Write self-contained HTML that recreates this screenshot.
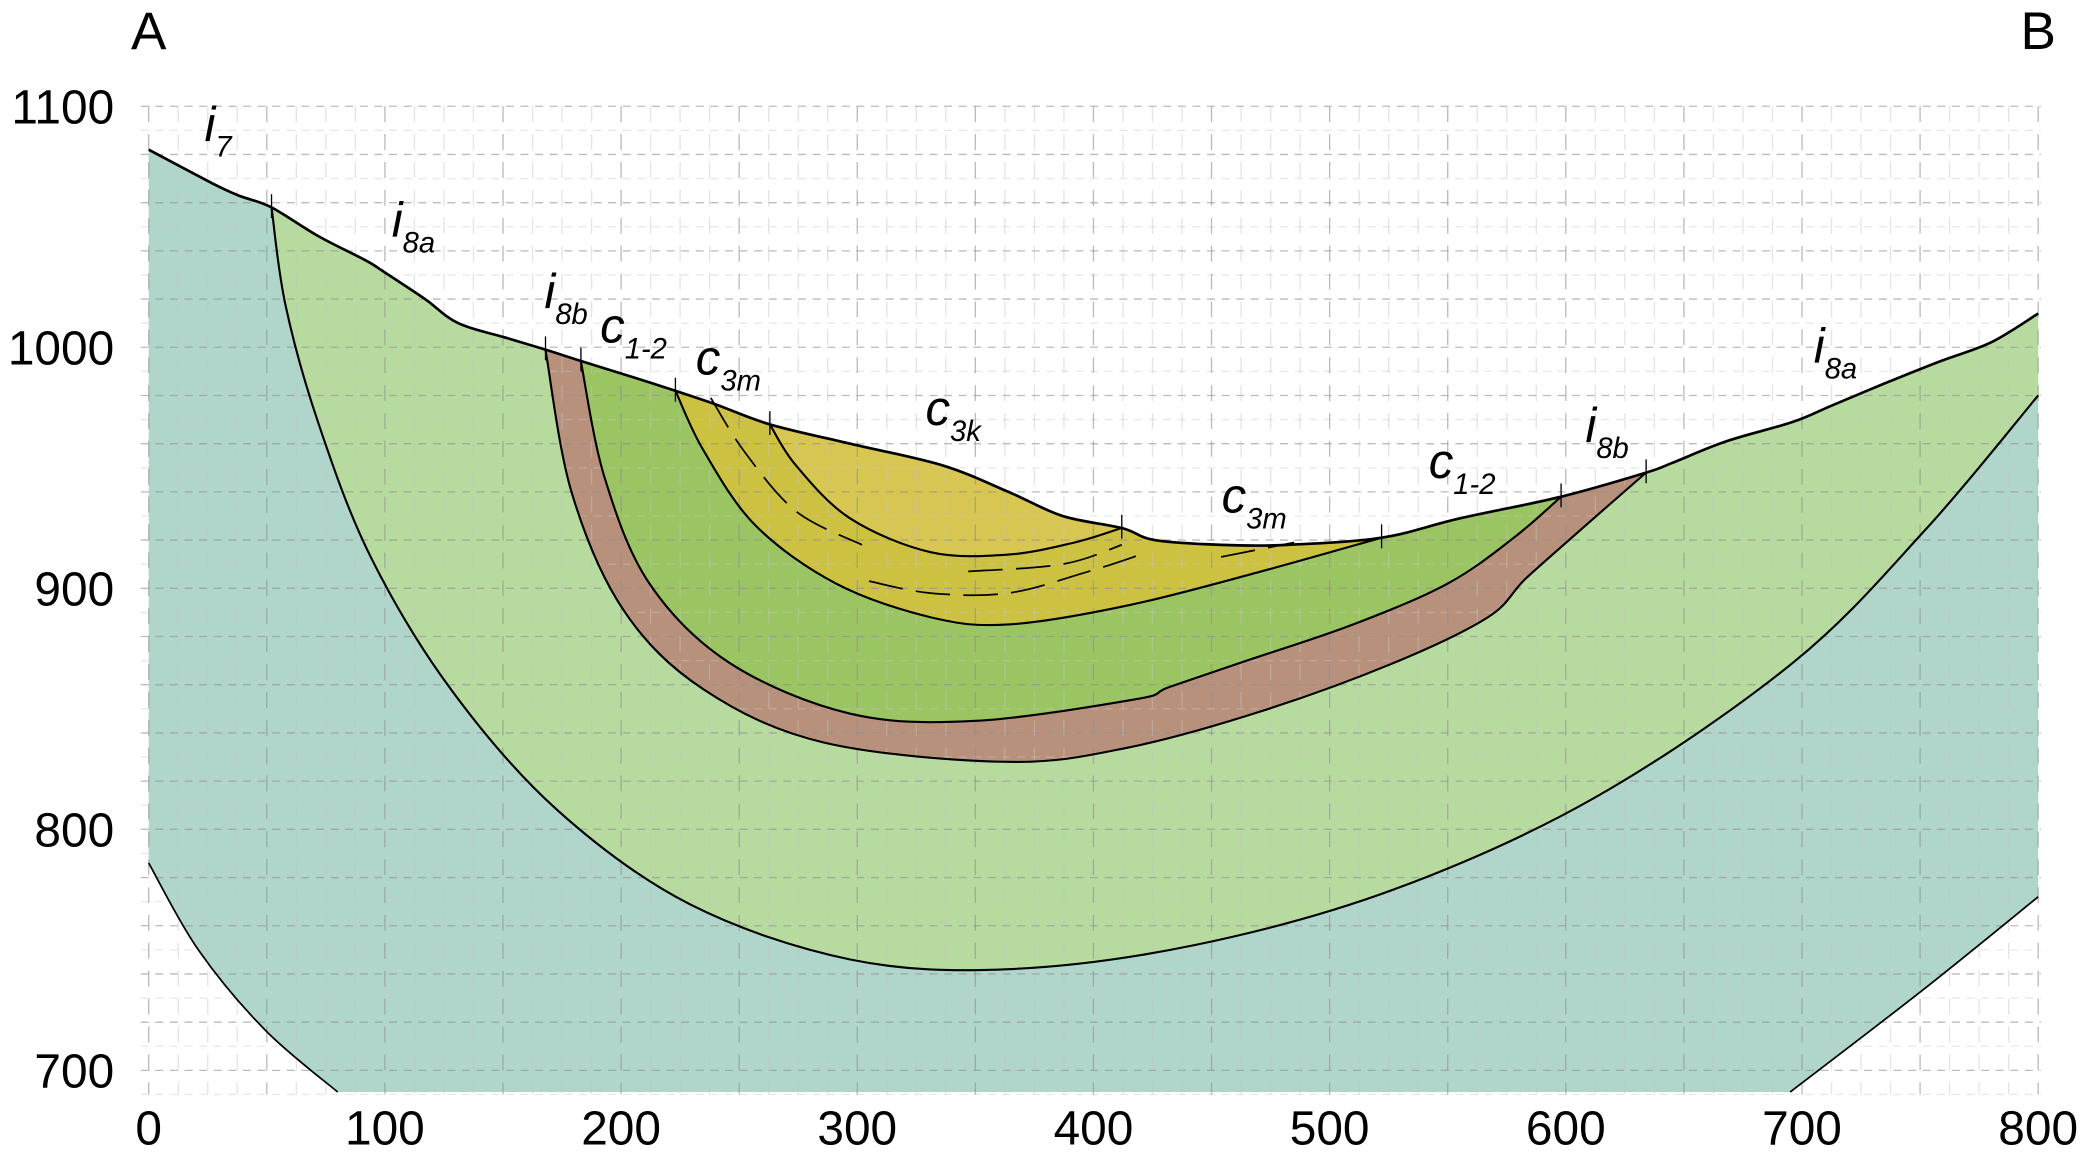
<!DOCTYPE html>
<html><head><meta charset="utf-8"><style>
html,body{margin:0;padding:0;background:#fff}
svg{display:block}
text{font-family:"Liberation Sans",Arial,sans-serif;fill:#000}
</style></head><body>
<svg id="chart" xmlns="http://www.w3.org/2000/svg" width="2082" height="1162" viewBox="0 0 1568 875" preserveAspectRatio="none">
<g id="fills"></g>
<g id="grid"></g>
<g id="lines"></g>
<g id="labels"></g>
</svg>
<script>
// ---- data (distance m, elevation m) ----
const surfX=[0,27,38,52,72,92,100,117,131,151,168,184,207,238,263,297,336,364,387,412,426,454,482,522,555,598,634,645,668,696,713,735,758,780,800];
const surfY=[1082,1068,1063,1058,1046,1036,1031,1020,1010,1004,999,994,987,977,968,960,951,940,930,925,920,918,918,921,929,938,948,952,961,969,976,985,994,1002,1014];
const i8aX=[52,58,72,94,128,173,229,297,364,443,527,612,696,752,800];
const i8aY=[1058,1017,968,913,858,808,769,746,742,752,775,813,869,924,980];
const brownOutX=[168,179,201,235,286,364,415,471,527,567,583,606,634];
const brownOutY=[999,940,891,858,836,828,834,849,869,888,904,924,948];
const brownInX=[183,193,212,246,297,350,418,432,465,510,550,578,598];
const brownInY=[994,946,902,869,848,845,854,859,870,885,902,921,938];
const c3mX=[223,235,257,291,331,364,415,471,522];
const c3mY=[982,957,926,902,888,885,893,907,921];
const c3kX=[263,274,297,331,364,392,412];
const c3kY=[968,951,929,915,914,919,925];
const tealLeftX=[0,21,49,80];
const tealLeftY=[786,750,717,691];
const tealRightX=[800,752,695];
const tealRightY=[772,734,691];
const dash1X=[238,252,274,302];
const dash1Y=[979,957,932,918];
const dash2X=[305,331,364,398,420];
const dash2Y=[903,898,898,907,914];
const dash3X=[347,387,412];
const dash3Y=[907,910,918];
const dash4X=[454,485];
const dash4Y=[913,919];
const contactX=[52,168,183,223,263,412,522,598,634];
const xTicks=[0,100,200,300,400,500,600,700,800];
const yTicks=[700,800,900,1000,1100];

// ---- axes ----
const sx=v=>112+v*1423/800;
const sy=v=>80+(1100-v)*1.815;
const NS='http://www.w3.org/2000/svg';
function mk(tag,parent,attrs){const e=document.createElementNS(NS,tag);for(const k in attrs)e.setAttribute(k,attrs[k]);parent.appendChild(e);return e;}
function pts(X,Y){return X.map((x,i)=>[sx(x),sy(Y[i])]);}
function curve(P,move){let d=(move?'M':'L')+P[0][0].toFixed(1)+','+P[0][1].toFixed(1);
 for(let i=0;i<P.length-1;i++){const p0=P[i-1]||P[i],p1=P[i],p2=P[i+1],p3=P[i+2]||P[i+1];
  const c1=[p1[0]+(p2[0]-p0[0])/6,p1[1]+(p2[1]-p0[1])/6],c2=[p2[0]-(p3[0]-p1[0])/6,p2[1]-(p3[1]-p1[1])/6];
  d+=` C${c1[0].toFixed(1)},${c1[1].toFixed(1)} ${c2[0].toFixed(1)},${c2[1].toFixed(1)} ${p2[0].toFixed(1)},${p2[1].toFixed(1)}`;}
 return d;}
function surfSeg(a,b){const X=[],Y=[];surfX.forEach((x,i)=>{if(x>=a&&x<=b){X.push(x);Y.push(surfY[i]);}});return pts(X,Y);}
const rev=a=>a.slice().reverse();
const fills=document.getElementById('fills'),lines=document.getElementById('lines'),grid=document.getElementById('grid'),labels=document.getElementById('labels');

let d=curve(pts(surfX,surfY),true)+' '+curve(pts(tealRightX,tealRightY),false)+' '+curve(rev(pts(tealLeftX,tealLeftY)),false)+'Z';
let e=mk('path',fills,{d:d,fill:'#b0d5ca'});


function layer(a,b,BX,BY,color,name){const dd=curve(surfSeg(a,b),true)+' '+curve(rev(pts(BX,BY)),false)+'Z';
 const el=mk('path',fills,{d:dd,fill:color});
 
 }
layer(52,800,i8aX,i8aY,'#b7db9f','layer-i8a');
layer(168,634,brownOutX,brownOutY,'#b8917c','layer-i8b');
layer(183,598,brownInX,brownInY,'#9bc562','layer-c1-2');
layer(223,522,c3mX,c3mY,'#cdc142','layer-c3m');
layer(263,412,c3kX,c3kY,'#d7c652','layer-c3k');

// grid
for(let v=690;v<=1100;v+=10){const major=v%20===0;
 const g=mk('line',grid,{x1:sx(0)-6,x2:sx(800)+2,y1:sy(v),y2:sy(v),stroke:major?'#8f8f8f':'#c8c8c8','stroke-width':1,'stroke-dasharray':'6,5',opacity:major?0.6:0.4});
 
 }
for(let v=0;v<=800;v+=12.5){const g=mk('line',grid,{x1:sx(v),x2:sx(v),y1:sy(1100),y2:sy(690),stroke:v%50===0?'#8f8f8f':'#c4c4c4','stroke-width':1,'stroke-dasharray':'12,9',opacity:v%50===0?0.6:0.45});
 
 }

function ln(P,name,w,dash){const l=mk('path',lines,{d:curve(P,true),fill:'none',stroke:'#000','stroke-width':w||1.6});if(dash)l.setAttribute('stroke-dasharray',dash);
 
 }
ln(pts(surfX,surfY),'topography-line',2);
ln(pts(i8aX,i8aY),'contact-i7-i8a');
ln(pts(brownOutX,brownOutY),'contact-i8a-i8b');
ln(pts(brownInX,brownInY),'contact-i8b-c1-2');
ln(pts(c3mX,c3mY),'contact-c1-2-c3m');
ln(pts(c3kX,c3kY),'contact-c3m-c3k');
ln(pts(tealLeftX,tealLeftY),'contact-left',1.3);
ln(pts(tealRightX,tealRightY),'contact-right',1.3);
ln(pts(dash1X,dash1Y),'bedding-1',1.3,'26,10');
ln(pts(dash2X,dash2Y),'bedding-2',1.3,'26,10');
ln(pts(dash3X,dash3Y),'bedding-3',1.3,'26,10');
ln(pts(dash4X,dash4Y),'bedding-4',1.3,'26,10');
contactX.forEach(x=>{let y=surfY[0];for(let i=0;i<surfX.length-1;i++){if(x>=surfX[i]&&x<=surfX[i+1]){y=surfY[i]+(surfY[i+1]-surfY[i])*(x-surfX[i])/(surfX[i+1]-surfX[i]);}}
 const t=mk('line',lines,{x1:sx(x),x2:sx(x),y1:sy(y)-10,y2:sy(y)+8,stroke:'#000','stroke-width':1});
 
 });

xTicks.forEach(v=>{const t=mk('text',labels,{x:sx(v),y:862,'font-size':36,'text-anchor':'middle'});t.textContent=v;
 
 });
yTicks.forEach(v=>{const t=mk('text',labels,{x:86,y:sy(v)+13,'font-size':36,'text-anchor':'end'});t.textContent=v;
 
 });
</script>
<svg style="position:absolute;left:0;top:0" width="2082" height="1162" viewBox="0 0 1568 875" preserveAspectRatio="none">
<text x="112" y="37" font-size="40" text-anchor="middle">A</text>
<text x="1535" y="37" font-size="40" text-anchor="middle">B</text>
<g font-style="italic">
<text x="154" y="106" font-size="37">i<tspan font-size="22" dy="12">7</tspan></text>
<text x="295" y="178" font-size="37">i<tspan font-size="22" dy="12">8a</tspan></text>
<text x="410" y="232" font-size="37">i<tspan font-size="22" dy="12">8b</tspan></text>
<text x="452" y="258" font-size="37">c<tspan font-size="22" dy="12">1-2</tspan></text>
<text x="524" y="282" font-size="37">c<tspan font-size="22" dy="12">3m</tspan></text>
<text x="697" y="320" font-size="37">c<tspan font-size="22" dy="12">3k</tspan></text>
<text x="920" y="386" font-size="37">c<tspan font-size="22" dy="12">3m</tspan></text>
<text x="1076" y="360" font-size="37">c<tspan font-size="22" dy="12">1-2</tspan></text>
<text x="1194" y="333" font-size="37">i<tspan font-size="22" dy="12">8b</tspan></text>
<text x="1366" y="273" font-size="37">i<tspan font-size="22" dy="12">8a</tspan></text>
</g>
</svg>
</body></html>
